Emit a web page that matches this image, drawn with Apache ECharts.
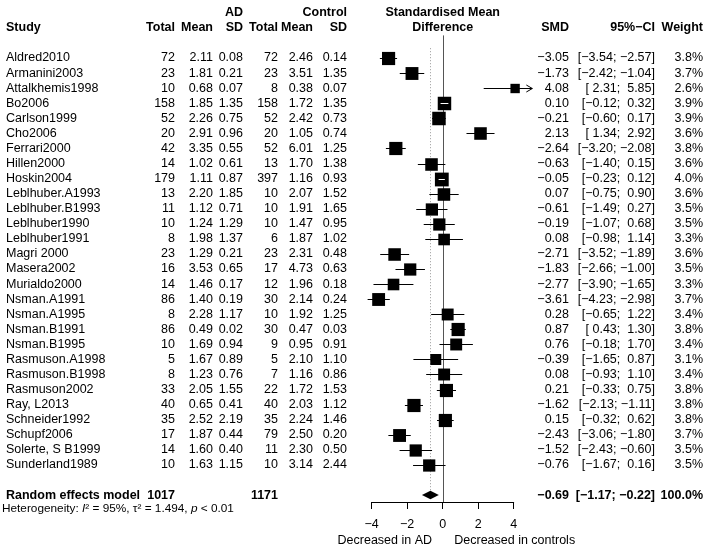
<!DOCTYPE html>
<html>
<head>
<meta charset="utf-8">
<script src="https://cdn.jsdelivr.net/npm/echarts@6/dist/echarts.min.js"></script>
<style>
html, body { margin: 0; padding: 0; background: #fff; }
#main { width: 709px; height: 552px; }
</style>
</head>
<body>
<div id="main"></div>
<script>
var studies = ['Aldred2010', 'Armanini2003', 'Attalkhemis1998', 'Bo2006', 'Carlson1999', 'Cho2006', 'Ferrari2000', 'Hillen2000', 'Hoskin2004', 'Leblhuber.A1993', 'Leblhuber.B1993', 'Leblhuber1990', 'Leblhuber1991', 'Magri 2000', 'Masera2002', 'Murialdo2000', 'Nsman.A1991', 'Nsman.A1995', 'Nsman.B1991', 'Nsman.B1995', 'Rasmuson.A1998', 'Rasmuson.B1998', 'Rasmuson2002', 'Ray, L2013', 'Schneider1992', 'Schupf2006', 'Solerte, S B1999', 'Sunderland1989'];
var adTotal = [72, 23, 10, 158, 52, 20, 42, 14, 179, 13, 11, 10, 8, 23, 16, 14, 86, 8, 86, 10, 5, 8, 33, 40, 35, 17, 14, 10];
var adMean = [2.11, 1.81, 0.68, 1.85, 2.26, 2.91, 3.35, 1.02, 1.11, 2.20, 1.12, 1.24, 1.98, 1.29, 3.53, 1.46, 1.40, 2.28, 0.49, 1.69, 1.67, 1.23, 2.05, 0.65, 2.52, 1.87, 1.60, 1.63];
var adSD = [0.08, 0.21, 0.07, 1.35, 0.75, 0.96, 0.55, 0.61, 0.87, 1.85, 0.71, 1.29, 1.37, 0.21, 0.65, 0.17, 0.19, 1.17, 0.02, 0.94, 0.89, 0.76, 1.55, 0.41, 2.19, 0.44, 0.40, 1.15];
var ctTotal = [72, 23, 8, 158, 52, 20, 52, 13, 397, 10, 10, 10, 6, 23, 17, 12, 30, 10, 30, 9, 5, 7, 22, 40, 35, 79, 11, 10];
var ctMean = [2.46, 3.51, 0.38, 1.72, 2.42, 1.05, 6.01, 1.70, 1.16, 2.07, 1.91, 1.47, 1.87, 2.31, 4.73, 1.96, 2.14, 1.92, 0.47, 0.95, 2.10, 1.16, 1.72, 2.03, 2.24, 2.50, 2.30, 3.14];
var ctSD = [0.14, 1.35, 0.07, 1.35, 0.73, 0.74, 1.25, 1.38, 0.93, 1.52, 1.65, 0.95, 1.02, 0.48, 0.63, 0.18, 0.24, 1.25, 0.03, 0.91, 1.10, 0.86, 1.53, 1.12, 1.46, 0.20, 0.50, 2.44];
var smd = [-3.05, -1.73, 4.08, 0.10, -0.21, 2.13, -2.64, -0.63, -0.05, 0.07, -0.61, -0.19, 0.08, -2.71, -1.83, -2.77, -3.61, 0.28, 0.87, 0.76, -0.39, 0.08, 0.21, -1.62, 0.15, -2.43, -1.52, -0.76];
var ciLow = [-3.54, -2.42, 2.31, -0.12, -0.60, 1.34, -3.20, -1.40, -0.23, -0.75, -1.49, -1.07, -0.98, -3.52, -2.66, -3.90, -4.23, -0.65, 0.43, -0.18, -1.65, -0.93, -0.33, -2.13, -0.32, -3.06, -2.43, -1.67];
var ciHigh = [-2.57, -1.04, 5.85, 0.32, 0.17, 2.92, -2.08, 0.15, 0.12, 0.90, 0.27, 0.68, 1.14, -1.89, -1.00, -1.65, -2.98, 1.22, 1.30, 1.70, 0.87, 1.10, 0.75, -1.11, 0.62, -1.80, -0.60, 0.16];
var weight = [3.8, 3.7, 2.6, 3.9, 3.9, 3.6, 3.8, 3.6, 4.0, 3.6, 3.5, 3.5, 3.3, 3.6, 3.5, 3.3, 3.7, 3.4, 3.8, 3.4, 3.1, 3.4, 3.8, 3.8, 3.8, 3.7, 3.5, 3.5];

// random effects model
var pooled = { label: 'Random effects model', adN: 1017, ctN: 1171, smd: -0.69, low: -1.17, high: -0.22, weight: 100.0 };
var xTicks = [-4, -2, 0, 2, 4];
var xLimit = 5.05; // CI beyond this is drawn as an arrow
var summaryRow = studies.length + 1;

var FONT = '12.5px "Liberation Sans", Arial, sans-serif';
var BOLD = 'bold 12.5px "Liberation Sans", Arial, sans-serif';

function fmt(v) {
	var s = Math.abs(v).toFixed(2);
	return v < 0 ? '\u2212' + s : s;
}
function fmtPad(v) {
	var s = Math.abs(v).toFixed(2);
	return v < 0 ? '\u2212' + s : ' ' + s;
}
function ciText(lo, hi) {
	return '[' + fmtPad(lo) + '; ' + fmtPad(hi) + ']';
}
function txt(x, y, s, align, font) {
	return {
		type: 'text', x: x, y: y,
		style: { text: s, align: align || 'right', verticalAlign: 'middle', font: font || FONT, fill: '#000' }
	};
}

// x position (px) of right edge of each text column
var col = { study: 6, adN: 175, adM: 213, adS: 243, ctN: 278, ctM: 313, ctS: 347, smd: 569, ci: 655, w: 703 };

var chart = echarts.init(document.getElementById('main'), null, { renderer: 'canvas' });

chart.setOption({
	animation: false,
	grid: { left: 371.7, right: 195.3, top: 35.4, bottom: 50 },
	xAxis: {
		type: 'value', min: -4, max: 4, interval: 2,
		axisLine: { show: true, onZero: false, lineStyle: { color: '#000', width: 1 } },
		axisTick: { show: true, length: 7, lineStyle: { color: '#000' } },
		axisLabel: {
			margin: 16, color: '#000', fontSize: 12.5, fontFamily: '"Liberation Sans", Arial, sans-serif',
			formatter: function (v) { return xTicks.indexOf(v) >= 0 ? String(v).replace('-', '\u2212') : ''; }
		},
		splitLine: { show: false }
	},
	yAxis: { type: 'value', min: -1.5, max: 29.46, inverse: true, show: false },
	series: [
		{
			// reference lines and pooled diamond
			type: 'custom',
			clip: false,
			silent: true,
			data: [[pooled.smd, summaryRow]],
			renderItem: function (params, api) {
				var c = api.coord([pooled.smd, summaryRow]);
				var xl = api.coord([pooled.low, summaryRow])[0];
				var xh = api.coord([pooled.high, summaryRow])[0];
				var h = 4.3;
				var top = api.coord([pooled.smd, -0.65])[1];
				var z0 = api.coord([0, -1.5]);
				var z1 = api.coord([0, 29.46]);
				var zx = Math.round(z0[0]) + 0.5;
				return {
					type: 'group',
					children: [
						{ type: 'line', shape: { x1: zx, y1: z0[1], x2: zx, y2: z1[1] }, style: { stroke: '#555', lineWidth: 1 } },
						{ type: 'line', shape: { x1: Math.round(c[0]) + 0.5, y1: top, x2: Math.round(c[0]) + 0.5, y2: c[1] - h }, style: { stroke: '#999', lineWidth: 1, lineDash: [1, 2] } },
						{ type: 'polygon', shape: { points: [[xl, c[1]], [c[0], c[1] - h], [xh, c[1]], [c[0], c[1] + h]] }, style: { fill: '#000' } }
					]
				};
			},
			z: 2
		},
		{
			// study CIs and weighted squares
			type: 'custom',
			clip: false,
			silent: true,
			data: studies.map(function (s, i) { return [smd[i], i]; }),
			encode: { x: 0, y: 1 },
			renderItem: function (params, api) {
				var i = params.dataIndex;
				var y = Math.round(api.coord([0, i])[1]) + 0.5;
				var xm = api.coord([smd[i], i])[0];
				var xl = api.coord([ciLow[i], i])[0];
				var xh = api.coord([Math.min(ciHigh[i], xLimit), i])[0];
				var size = 13.8 * Math.pow(weight[i] / 4, 0.9);
				var narrow = (xh - xl) < size;
				var kids = [
					{ type: 'line', shape: { x1: xl, y1: y, x2: xh, y2: y }, style: { stroke: '#000', lineWidth: 1 } },
					{ type: 'rect', shape: { x: xm - size / 2, y: y - size / 2, width: size, height: size }, style: { fill: '#000' } }
				];
				if (narrow) {
					kids.push({ type: 'line', shape: { x1: xl, y1: y, x2: xh, y2: y }, style: { stroke: '#fff', lineWidth: 1 } });
				}
				if (ciHigh[i] > xLimit) {
					kids.push({ type: 'polyline', shape: { points: [[xh - 6, y - 3.5], [xh, y], [xh - 6, y + 3.5]] }, style: { stroke: '#000', fill: null, lineWidth: 1 } });
				}
				return { type: 'group', children: kids };
			},
			z: 3
		},
		{
			// study table text
			type: 'custom',
			clip: false,
			silent: true,
			data: studies.map(function (s, i) { return [0, i]; }),
			renderItem: function (params, api) {
				var i = params.dataIndex;
				var y = api.coord([0, i])[1];
				return {
					type: 'group',
					children: [
						txt(col.study, y, studies[i], 'left'),
						txt(col.adN, y, String(adTotal[i])),
						txt(col.adM, y, fmt(adMean[i])),
						txt(col.adS, y, fmt(adSD[i])),
						txt(col.ctN, y, String(ctTotal[i])),
						txt(col.ctM, y, fmt(ctMean[i])),
						txt(col.ctS, y, fmt(ctSD[i])),
						txt(col.smd, y, fmt(smd[i])),
						txt(col.ci, y, ciText(ciLow[i], ciHigh[i])),
						txt(col.w, y, weight[i].toFixed(1) + '%')
					]
				};
			}
		},
		{
			// headers, summary row, heterogeneity and axis captions
			type: 'custom',
			clip: false,
			silent: true,
			data: [[0, -3]],
			renderItem: function (params, api) {
				var y1 = api.coord([0, -3])[1];
				var y2 = api.coord([0, -2])[1];
				var ys = api.coord([0, summaryRow])[1];
				var yh = api.coord([0, summaryRow + 0.93])[1];
				var yc = api.coord([0, summaryRow + 3.05])[1];
				var x0 = api.coord([0, 0])[0];
				return {
					type: 'group',
					children: [
						txt(col.adS, y1, 'AD', 'right', BOLD),
						txt(col.ctS, y1, 'Control', 'right', BOLD),
						txt(x0, y1, 'Standardised Mean', 'center', BOLD),
						txt(col.study, y2, 'Study', 'left', BOLD),
						txt(col.adN, y2, 'Total', 'right', BOLD),
						txt(col.adM, y2, 'Mean', 'right', BOLD),
						txt(col.adS, y2, 'SD', 'right', BOLD),
						txt(col.ctN, y2, 'Total', 'right', BOLD),
						txt(col.ctM, y2, 'Mean', 'right', BOLD),
						txt(col.ctS, y2, 'SD', 'right', BOLD),
						txt(x0, y2, 'Difference', 'center', BOLD),
						txt(col.smd, y2, 'SMD', 'right', BOLD),
						txt(col.ci, y2, '95%\u2212CI', 'right', BOLD),
						txt(col.w, y2, 'Weight', 'right', BOLD),
						txt(col.study, ys, pooled.label, 'left', BOLD),
						txt(col.adN, ys, String(pooled.adN), 'right', BOLD),
						txt(col.ctN, ys, String(pooled.ctN), 'right', BOLD),
						txt(col.smd, ys, fmt(pooled.smd), 'right', BOLD),
						txt(col.ci, ys, ciText(pooled.low, pooled.high), 'right', BOLD),
						txt(col.w, ys, pooled.weight.toFixed(1) + '%', 'right', BOLD),
						{
							type: 'text', x: 2, y: yh,
							style: {
								text: '{n|Heterogeneity: }{i|I}{n|\u00b2 = 95%, \u03c4\u00b2 = 1.494, }{i|p}{n| < 0.01}',
								verticalAlign: 'middle', align: 'left',
								rich: {
									n: { font: '11.8px "Liberation Sans", Arial, sans-serif', fill: '#000' },
									i: { font: 'italic 11.8px "Liberation Sans", Arial, sans-serif', fill: '#000' }
								}
							}
						},
						txt(api.coord([-0.6, 0])[0], yc, 'Decreased in AD', 'right'),
						txt(api.coord([0.65, 0])[0], yc, 'Decreased in controls', 'left')
					]
				};
			},
			z: 4
		}
	]
});
</script>
</body>
</html>
